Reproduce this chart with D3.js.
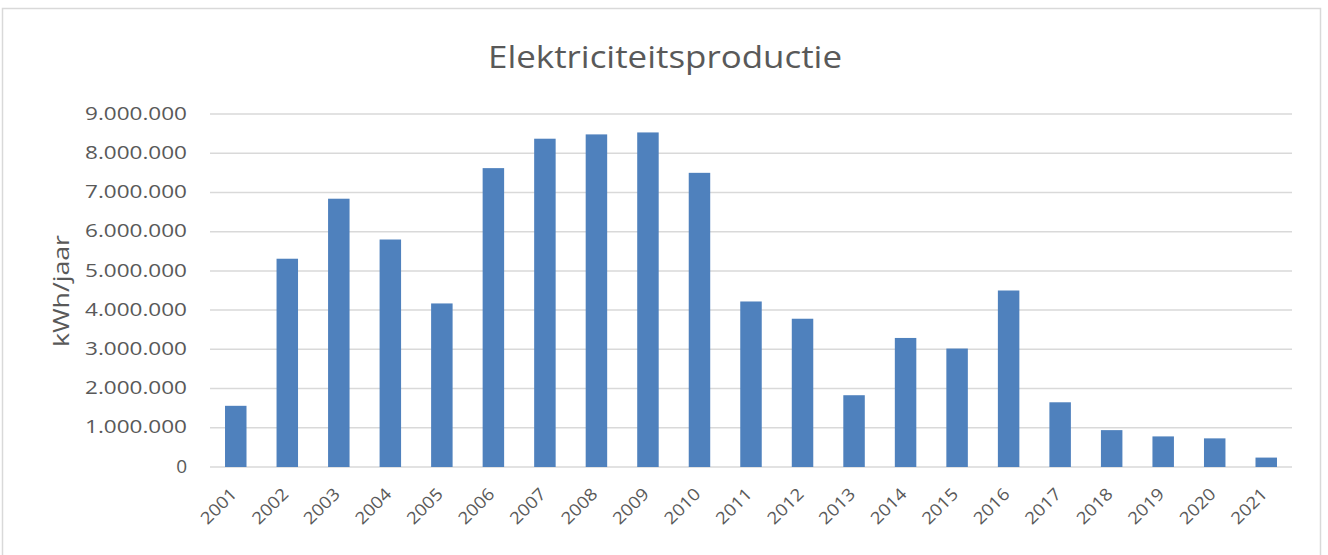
<!DOCTYPE html>
<html><head><meta charset="utf-8">
<script src="https://cdn.jsdelivr.net/npm/d3@7"></script>
<style>body{margin:0;background:#fff;} text{font-family:"Open Sans","Liberation Sans",sans-serif;}</style>
</head><body>
<svg id="c" width="1328" height="555"></svg>
<script>
const years = ["2001","2002","2003","2004","2005","2006","2007","2008","2009","2010","2011","2012","2013","2014","2015","2016","2017","2018","2019","2020","2021"];
const production = [1560000,5310000,6840000,5800000,4170000,7620000,8370000,8480000,8530000,7500000,4220000,3780000,1830000,3290000,3020000,4500000,1650000,940000,780000,730000,240000];
const yTicks = [0,1000000,2000000,3000000,4000000,5000000,6000000,7000000,8000000,9000000];
const title = "Elektriciteitsproductie";
const yTitle = "kWh/jaar";

(function(){
const svg = d3.select("#c");
svg.append("rect").attr("x",2.5).attr("y",8.5).attr("width",1318).attr("height",560)
  .attr("fill","#fff").attr("stroke","#d9d9d9").attr("stroke-width",1.5);

const pLeft=210, pRight=1292, pTop=114, pBottom=467;
const x = d3.scaleBand().domain(years).range([pLeft,pRight]).paddingInner(0.583).paddingOuter(0.2915);
const y = d3.scaleLinear().domain([0,9000000]).range([pBottom,pTop]);
const fmt = v => d3.format(",")(v).replace(/,/g,".");

svg.append("g").selectAll("line").data(yTicks).join("line")
  .attr("x1",pLeft).attr("x2",pRight).attr("y1",d=>y(d)).attr("y2",d=>y(d))
  .attr("stroke","#d9d9d9").attr("stroke-width",1.5);

svg.append("g").selectAll("text").data(yTicks).join("text")
  .attr("x",187).attr("y",d=>y(d)).attr("dy","0.3em").attr("text-anchor","end")
  .attr("fill","#595959").style("font-size","19px")
  .each(function(d){ if(d>0) d3.select(this).attr("textLength",102).attr("lengthAdjust","spacingAndGlyphs"); })
  .text(fmt);

svg.append("g").selectAll("rect").data(production).join("rect")
  .attr("x",(d,i)=>x(years[i])).attr("width",x.bandwidth())
  .attr("y",d=>y(d)).attr("height",d=>pBottom-y(d)).attr("fill","#4f81bd");

svg.append("g").selectAll("text").data(years).join("text")
  .attr("transform",d=>`translate(${x(d)+x.bandwidth()/2-2},${491}) rotate(-45)`)
  .attr("text-anchor","end").attr("dy","0.35em")
  .attr("textLength",43).attr("lengthAdjust","spacingAndGlyphs")
  .attr("fill","#595959").style("font-size","17px").text(d=>d);

svg.append("text").attr("x",665).attr("y",68).attr("text-anchor","middle")
  .attr("textLength",354).attr("lengthAdjust","spacingAndGlyphs")
  .attr("fill","#595959").style("font-size","31px").text(title);

svg.append("text").attr("transform","translate(69,291) rotate(-90)").attr("text-anchor","middle")
  .attr("textLength",112).attr("lengthAdjust","spacingAndGlyphs")
  .attr("fill","#595959").style("font-size","21px").text(yTitle);
})();
</script>
</body></html>
